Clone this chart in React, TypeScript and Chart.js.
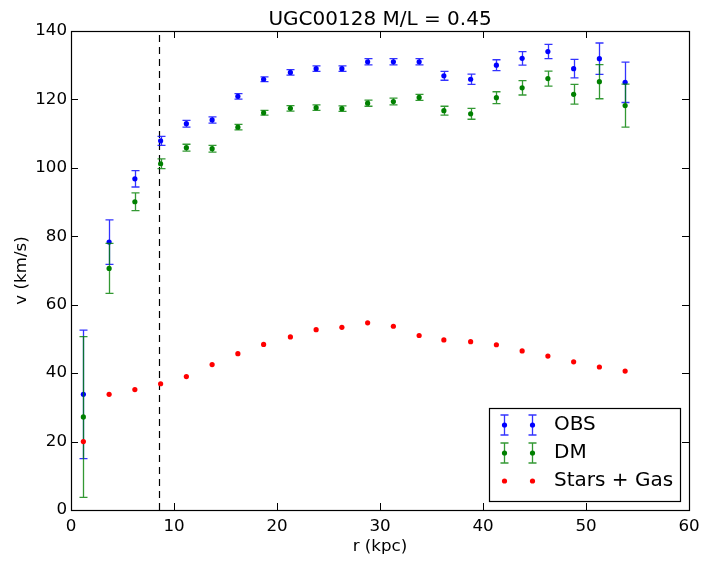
import React, { useEffect, useRef } from "react";
import { Chart, registerables } from "chart.js";

Chart.register(...registerables);

const TITLE = "UGC00128 M/L = 0.45";
const X_LABEL = "r (kpc)";
const Y_LABEL = "v (km/s)";

const radius = [1.2, 3.7, 6.2, 8.7, 11.2, 13.7, 16.2, 18.7, 21.3, 23.8, 26.3, 28.8, 31.3, 33.8, 36.2, 38.8, 41.3, 43.8, 46.3, 48.8, 51.3, 53.8];

const obsV = [33.8, 78.3, 96.8, 107.9, 112.9, 114.0, 120.9, 125.9, 127.9, 129.0, 129.0, 131.0, 131.0, 131.0, 126.9, 125.9, 130.0, 132.0, 134.0, 129.0, 131.9, 125.0];
const obsErr = [18.8, 6.5, 2.4, 1.3, 1.0, 0.9, 0.8, 0.7, 0.8, 0.8, 0.8, 0.9, 0.9, 0.9, 1.3, 1.5, 1.6, 2.0, 2.1, 2.7, 4.6, 5.9];

const dmV = [27.2, 70.6, 90.1, 101.2, 105.9, 105.6, 111.9, 116.1, 117.4, 117.6, 117.3, 118.9, 119.4, 120.6, 116.7, 115.8, 120.5, 123.4, 126.1, 121.5, 125.2, 118.2];
const dmErr = [23.5, 7.3, 2.6, 1.4, 1.0, 1.0, 0.8, 0.7, 0.8, 0.8, 0.8, 0.9, 1.0, 0.9, 1.3, 1.6, 1.75, 2.1, 2.2, 2.9, 5.0, 6.3];

const starsGasV = [20.0, 33.8, 35.2, 36.9, 39.0, 42.5, 45.7, 48.4, 50.6, 52.7, 53.4, 54.7, 53.7, 51.0, 49.7, 49.2, 48.3, 46.5, 45.0, 43.3, 41.8, 40.6];

const dashedLineR = 8.56;

const xTicks = [0, 10, 20, 30, 40, 50, 60];
const yTicks = [0, 20, 40, 60, 80, 100, 120, 140];

const seriesNames = ["OBS", "DM", "Stars + Gas"];
const seriesColors = ["#0000ff", "#008000", "#ff0000"];

const FONT = "'DejaVu Sans', sans-serif";

function toPoints(xs: number[], ys: number[]) {
  return xs.map((x, i) => ({ x, y: ys[i] }));
}

const customPlugin = {
  id: "customDraw",
  beforeDatasetsDraw(chart: any) {
    const { ctx, chartArea, scales } = chart;
    const x = Math.round(scales.x.getPixelForValue(dashedLineR)) + 0.5;
    ctx.save();
    ctx.strokeStyle = "#000";
    ctx.lineWidth = 1.2;
    ctx.setLineDash([7, 5]);
    ctx.beginPath();
    ctx.moveTo(x, chartArea.bottom);
    ctx.lineTo(x, chartArea.top);
    ctx.stroke();
    ctx.restore();
  },
  beforeDatasetDraw(chart: any, args: any) {
    const ds = chart.data.datasets[args.index];
    if (!ds.errors) return;
    const { ctx, scales } = chart;
    ctx.save();
    ctx.strokeStyle = ds.backgroundColor;
    ctx.globalAlpha = 0.8;
    ctx.lineWidth = 1.3;
    ds.data.forEach((p: any, i: number) => {
      const e = ds.errors[i];
      const px = Math.round(scales.x.getPixelForValue(p.x)) + 0.5;
      const yTop = scales.y.getPixelForValue(p.y + e);
      const yBot = scales.y.getPixelForValue(p.y - e);
      ctx.beginPath();
      ctx.moveTo(px, yTop);
      ctx.lineTo(px, yBot);
      ctx.moveTo(px - 4, yTop);
      ctx.lineTo(px + 4, yTop);
      ctx.moveTo(px - 4, yBot);
      ctx.lineTo(px + 4, yBot);
      ctx.stroke();
    });
    ctx.restore();
  },
  afterDraw(chart: any) {
    const { ctx, chartArea, scales } = chart;
    const { left, right, top, bottom } = chartArea;
    ctx.save();
    // frame
    ctx.strokeStyle = "#000";
    ctx.lineWidth = 1.2;
    ctx.strokeRect(Math.round(left) + 0.5, Math.round(top) + 0.5, Math.round(right - left), Math.round(bottom - top));
    // inward ticks
    ctx.lineWidth = 1;
    ctx.beginPath();
    xTicks.forEach((v) => {
      const px = Math.round(scales.x.getPixelForValue(v)) + 0.5;
      ctx.moveTo(px, bottom);
      ctx.lineTo(px, bottom - 7);
      ctx.moveTo(px, top);
      ctx.lineTo(px, top + 7);
    });
    yTicks.forEach((v) => {
      const py = Math.round(scales.y.getPixelForValue(v)) + 0.5;
      ctx.moveTo(left, py);
      ctx.lineTo(left + 7, py);
      ctx.moveTo(right, py);
      ctx.lineTo(right - 7, py);
    });
    ctx.stroke();
    // title
    ctx.fillStyle = "#000";
    ctx.font = `20px ${FONT}`;
    ctx.textAlign = "center";
    ctx.textBaseline = "alphabetic";
    ctx.fillText(TITLE, (left + right) / 2, top - 6);
    // legend
    const bx = right - 200;
    const by = bottom - 102;
    const bw = 191;
    const bh = 93;
    ctx.fillStyle = "#fff";
    ctx.fillRect(bx, by, bw, bh);
    ctx.strokeStyle = "#000";
    ctx.lineWidth = 1.2;
    ctx.strokeRect(Math.round(bx) + 0.5, Math.round(by) + 0.5, bw, bh);
    seriesNames.forEach((name, i) => {
      const cy = by + 17 + i * 28;
      const color = seriesColors[i];
      [bx + 15, bx + 43].forEach((mx) => {
        const x = Math.round(mx) + 0.5;
        if (i < 2) {
          ctx.save();
          ctx.strokeStyle = color;
          ctx.globalAlpha = 0.8;
          ctx.lineWidth = 1.3;
          ctx.beginPath();
          ctx.moveTo(x, cy - 10);
          ctx.lineTo(x, cy + 10);
          ctx.moveTo(x - 4, cy - 10);
          ctx.lineTo(x + 4, cy - 10);
          ctx.moveTo(x - 4, cy + 10);
          ctx.lineTo(x + 4, cy + 10);
          ctx.stroke();
          ctx.restore();
        }
        ctx.fillStyle = color;
        ctx.beginPath();
        ctx.arc(x, cy, 2.6, 0, Math.PI * 2);
        ctx.fill();
      });
      ctx.fillStyle = "#000";
      ctx.font = `20px ${FONT}`;
      ctx.textAlign = "left";
      ctx.textBaseline = "middle";
      ctx.fillText(name, bx + 65, cy);
    });
    ctx.restore();
  },
};

export default function App() {
  const canvasRef = useRef<HTMLCanvasElement | null>(null);

  useEffect(() => {
    document.body.style.margin = "0";
    const canvas = canvasRef.current;
    if (!canvas) return;
    const tickFont = { family: FONT, size: 16.7 };
    const chart = new Chart(canvas, {
      type: "scatter",
      data: {
        datasets: [
          {
            label: seriesNames[0],
            data: toPoints(radius, obsV),
            errors: obsErr,
            backgroundColor: seriesColors[0],
            borderWidth: 0,
            pointRadius: 2.6,
            order: 3,
          } as any,
          {
            label: seriesNames[1],
            data: toPoints(radius, dmV),
            errors: dmErr,
            backgroundColor: seriesColors[1],
            borderWidth: 0,
            pointRadius: 2.6,
            order: 2,
          } as any,
          {
            label: seriesNames[2],
            data: toPoints(radius, starsGasV),
            backgroundColor: seriesColors[2],
            borderWidth: 0,
            pointRadius: 2.6,
            order: 1,
          } as any,
        ],
      },
      options: {
        animation: false,
        responsive: false,
        devicePixelRatio: 1,
        layout: { padding: { top: 31, right: 15, left: 0, bottom: 0 } },
        plugins: {
          legend: { display: false },
          tooltip: { enabled: false },
          title: { display: false },
        },
        scales: {
          x: {
            type: "linear",
            min: 0,
            max: 60,
            afterBuildTicks: (s: any) => {
              s.ticks = xTicks.map((v) => ({ value: v }));
            },
            ticks: { color: "#000", font: tickFont, padding: 7, maxRotation: 0, autoSkip: false },
            grid: { display: false, drawTicks: false },
            border: { display: false },
            title: {
              display: true,
              text: X_LABEL,
              color: "#000",
              font: tickFont,
              padding: { top: 0, bottom: 6 },
            },
            afterFit: (s: any) => {
              s.height = 53;
              s.paddingLeft = 0;
              s.paddingRight = 0;
            },
          },
          y: {
            type: "linear",
            min: 0,
            max: 140,
            afterBuildTicks: (s: any) => {
              s.ticks = yTicks.map((v) => ({ value: v }));
            },
            ticks: { color: "#000", font: tickFont, padding: 4, autoSkip: false },
            grid: { display: false, drawTicks: false },
            border: { display: false },
            title: {
              display: true,
              text: Y_LABEL,
              color: "#000",
              font: tickFont,
              padding: { top: 12, bottom: 0 },
            },
            afterFit: (s: any) => {
              s.width = 71;
              s.paddingTop = 0;
              s.paddingBottom = 0;
            },
          },
        },
      } as any,
      plugins: [customPlugin],
    });
    return () => chart.destroy();
  }, []);

  return (
    <div style={{ width: 704, height: 563 }}>
      <canvas ref={canvasRef} width={704} height={563} style={{ display: "block" }} />
    </div>
  );
}
